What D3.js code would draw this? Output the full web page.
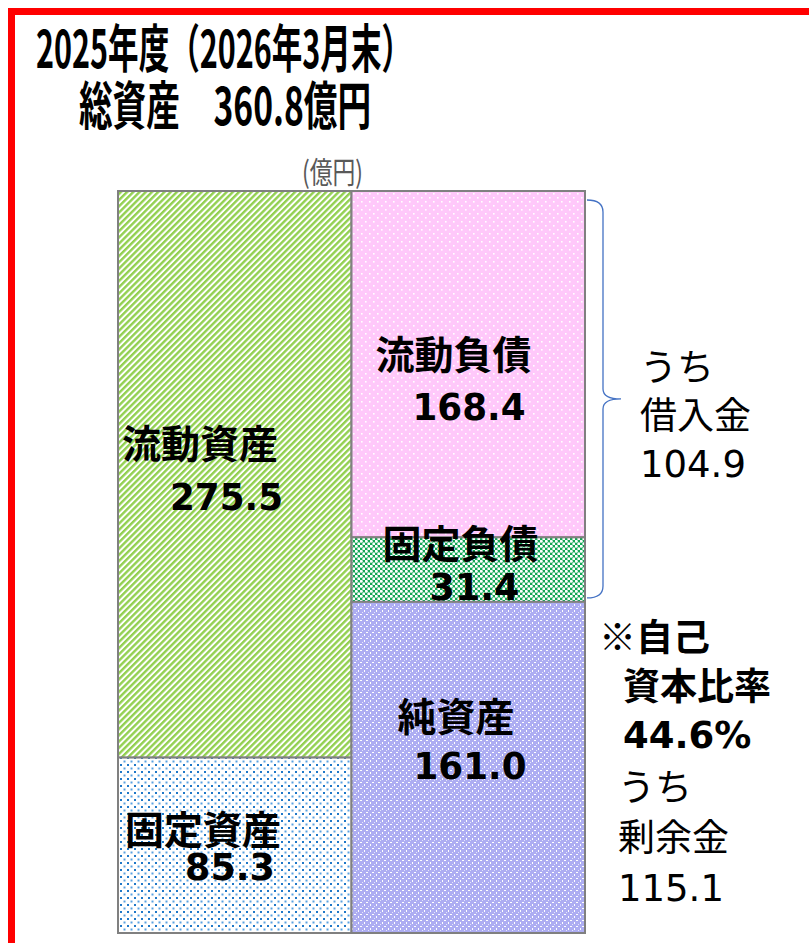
<!DOCTYPE html>
<html>
<head>
  <meta charset="utf-8">
  <title>総資産</title>
  <script src="https://d3js.org/d3.v7.min.js"></script>
  <style>
    body {
      margin: 0;
      background: #fff;
      font-family: "Noto Sans CJK JP", "Noto Sans", sans-serif;
    }
    svg { display: block; }
  </style>
</head>
<body>
  <div id="chart"></div>
  <script>
    // balance sheet, 億円
    const assets = ["流動資産", "固定資産"];
    const assetValues = [275.5, 85.3];
    const liabilities = ["流動負債", "固定負債", "純資産"];
    const liabilityValues = [168.4, 31.4, 161.0];
    const columns = ["資産", "負債・純資産"];
    const total = 360.8;
    const borrowings = 104.9;
    const surplus = 115.1;
    const equityRatio = 44.6;

    const width = 809, height = 943;
    const numFont = "Verdana, 'DejaVu Sans', sans-serif";

    const svg = d3.select("#chart").append("svg")
      .attr("width", width)
      .attr("height", height);

    const defs = svg.append("defs");

    // hatch fills, roughly like the office patterns
    const stripe = defs.append("pattern").attr("id", "p-green")
      .attr("patternUnits", "userSpaceOnUse")
      .attr("width", 4.4).attr("height", 4.4)
      .attr("patternTransform", "rotate(45)");
    stripe.append("rect").attr("width", 4.4).attr("height", 4.4).attr("fill", "#fff");
    stripe.append("rect").attr("width", 2.4).attr("height", 4.4).attr("fill", "#92d050");

    const pink = defs.append("pattern").attr("id", "p-pink")
      .attr("patternUnits", "userSpaceOnUse").attr("width", 8).attr("height", 8);
    pink.append("rect").attr("width", 8).attr("height", 8).attr("fill", "#ffc8fa");
    pink.append("rect").attr("x", 1).attr("y", 1).attr("width", 1.6).attr("height", 1.6).attr("fill", "#fff");
    pink.append("rect").attr("x", 5).attr("y", 5).attr("width", 1.6).attr("height", 1.6).attr("fill", "#fff");

    const lattice = defs.append("pattern").attr("id", "p-dkgreen")
      .attr("patternUnits", "userSpaceOnUse").attr("width", 5).attr("height", 5);
    lattice.append("rect").attr("width", 5).attr("height", 5).attr("fill", "#12a655");
    lattice.append("circle").attr("cx", 1.25).attr("cy", 1.25).attr("r", 1.5).attr("fill", "#fff");
    lattice.append("circle").attr("cx", 3.75).attr("cy", 3.75).attr("r", 1.5).attr("fill", "#fff");

    const lav = defs.append("pattern").attr("id", "p-lav")
      .attr("patternUnits", "userSpaceOnUse").attr("width", 6).attr("height", 6);
    lav.append("rect").attr("width", 6).attr("height", 6).attr("fill", "#adadf2");
    lav.append("rect").attr("x", 0).attr("y", 2).attr("width", 2).attr("height", 1).attr("fill", "#fff");
    lav.append("rect").attr("x", 4).attr("y", 4).attr("width", 1).attr("height", 2).attr("fill", "#fff");
    lav.append("rect").attr("x", 2).attr("y", 0).attr("width", 1).attr("height", 1).attr("fill", "#e4e4fb");

    const dots = defs.append("pattern").attr("id", "p-blue")
      .attr("patternUnits", "userSpaceOnUse").attr("width", 7).attr("height", 7);
    dots.append("rect").attr("width", 7).attr("height", 7).attr("fill", "#fff");
    dots.append("rect").attr("x", 1).attr("y", 1).attr("width", 2).attr("height", 2).attr("fill", "#1f78c8");
    dots.append("rect").attr("x", 4.5).attr("y", 4.5).attr("width", 2).attr("height", 2).attr("fill", "#5aa2e0");

    const assetFill = ["url(#p-green)", "url(#p-blue)"];
    const liabFill = ["url(#p-pink)", "url(#p-dkgreen)", "url(#p-lav)"];

    // red frame (only top/left visible in the crop)
    svg.append("path")
      .attr("d", `M${width},11.5 H11.5 V${height}`)
      .attr("fill", "none")
      .attr("stroke", "#ff0000")
      .attr("stroke-width", 7);

    // title, one text block with two lines
    const title = svg.append("text")
      .attr("font-size", 52).attr("font-weight", 700).attr("fill", "#000");
    title.append("tspan")
      .attr("x", 36).attr("y", 68)
      .attr("textLength", 376).attr("lengthAdjust", "spacingAndGlyphs")
      .text("2025年度（2026年3月末）");
    title.append("tspan")
      .attr("x", 79).attr("y", 125)
      .attr("textLength", 292).attr("lengthAdjust", "spacingAndGlyphs")
      .text(`総資産　${total.toFixed(1)}億円`);

    svg.append("text")
      .attr("x", 302).attr("y", 183)
      .attr("textLength", 61).attr("lengthAdjust", "spacingAndGlyphs")
      .attr("font-size", 30).attr("fill", "#595959")
      .text("(億円)");

    const x = d3.scaleBand().domain(columns).range([118, 585]).padding(0);
    const y = d3.scaleLinear().domain([0, total]).range([191, 933]);

    function stack(names, values) {
      let acc = 0;
      return names.map((n, i) => {
        const d = { name: n, value: values[i], y0: acc, y1: acc + values[i] };
        acc += values[i];
        return d;
      });
    }

    const left = stack(assets, assetValues);
    const right = stack(liabilities, liabilityValues);

    const g = svg.append("g");

    g.selectAll("rect.asset").data(left).join("rect")
      .attr("class", "asset")
      .attr("x", x(columns[0]))
      .attr("width", x.bandwidth())
      .attr("y", d => y(d.y0))
      .attr("height", d => y(d.y1) - y(d.y0))
      .attr("fill", (d, i) => assetFill[i])
      .attr("stroke", "#808080").attr("stroke-width", 2);

    g.selectAll("rect.liab").data(right).join("rect")
      .attr("class", "liab")
      .attr("x", x(columns[1]))
      .attr("width", x.bandwidth())
      .attr("y", d => y(d.y0))
      .attr("height", d => y(d.y1) - y(d.y0))
      .attr("fill", (d, i) => liabFill[i])
      .attr("stroke", "#808080").attr("stroke-width", 2);

    // labels: name + value, offsets from block centre, tuned by eye
    const assetLab = [
      { dx: 4, dy: -16, vdx: 52, vdy: 36 },
      { dx: 7, dy: -1, vdx: 67, vdy: 35 }
    ];
    const liabLab = [
      { dx: 24, dy: 5, vdx: 61, vdy: 56 },
      { dx: 31, dy: -12, vdx: 78, vdy: 30 },
      { dx: 46, dy: -36, vdx: 62, vdy: 12 }
    ];

    function labels(data, col, offs) {
      const lg = g.append("g")
        .attr("font-weight", 700).attr("fill", "#000").attr("font-size", 39);
      data.forEach((d, i) => {
        const cy = y((d.y0 + d.y1) / 2);
        const o = offs[i];
        const t = lg.append("text");
        t.append("tspan")
          .attr("x", x(col) + o.dx).attr("y", cy + o.dy)
          .text(d.name);
        t.append("tspan")
          .attr("x", x(col) + o.vdx).attr("y", cy + o.vdy)
          .attr("font-family", numFont)
          .attr("font-size", 37)
          .attr("textLength", d.value >= 100 ? 113 : 90)
          .attr("lengthAdjust", "spacingAndGlyphs")
          .text(d.value.toFixed(1));
      });
    }
    labels(left, columns[0], assetLab);
    labels(right, columns[1], liabLab);

    // brace over the debt part (流動負債 + 固定負債)
    const debtTop = y(0) + 9, debtBot = y(right[1].y1) - 4;
    const mid = (debtTop + debtBot) / 2;
    const bx = 603;
    svg.append("path")
      .attr("d", `M587,${debtTop} Q${bx},${debtTop} ${bx},${debtTop + 12}
        V${mid - 10} Q${bx},${mid} ${bx + 18},${mid} Q${bx},${mid} ${bx},${mid + 10}
        V${debtBot - 12} Q${bx},${debtBot} 587,${debtBot}`)
      .attr("fill", "none").attr("stroke", "#4472c4").attr("stroke-width", 1.3);

    // side notes, each a single multi-line text box
    function block(x0, lines, opts) {
      const t = svg.append("text")
        .attr("font-size", 37).attr("fill", "#000")
        .attr("font-weight", opts.bold ? 700 : 400);
      lines.forEach(l => {
        const s = t.append("tspan").attr("x", l.x || x0).attr("y", l.y).text(l.text);
        if (l.num) s.attr("font-family", numFont);
      });
    }

    block(640, [
      { y: 381, text: "うち" },
      { y: 429, text: "借入金" },
      { y: 477, text: borrowings.toFixed(1), num: true }
    ], {});

    block(623, [
      { x: 599, y: 651, text: "※自己" },
      { y: 700, text: "資本比率" },
      { y: 748, text: equityRatio.toFixed(1) + "%", num: true }
    ], { bold: true });

    block(618, [
      { y: 801, text: "うち" },
      { y: 851, text: "剰余金" },
      { y: 901, text: surplus.toFixed(1), num: true }
    ], {});
  </script>
</body>
</html>
